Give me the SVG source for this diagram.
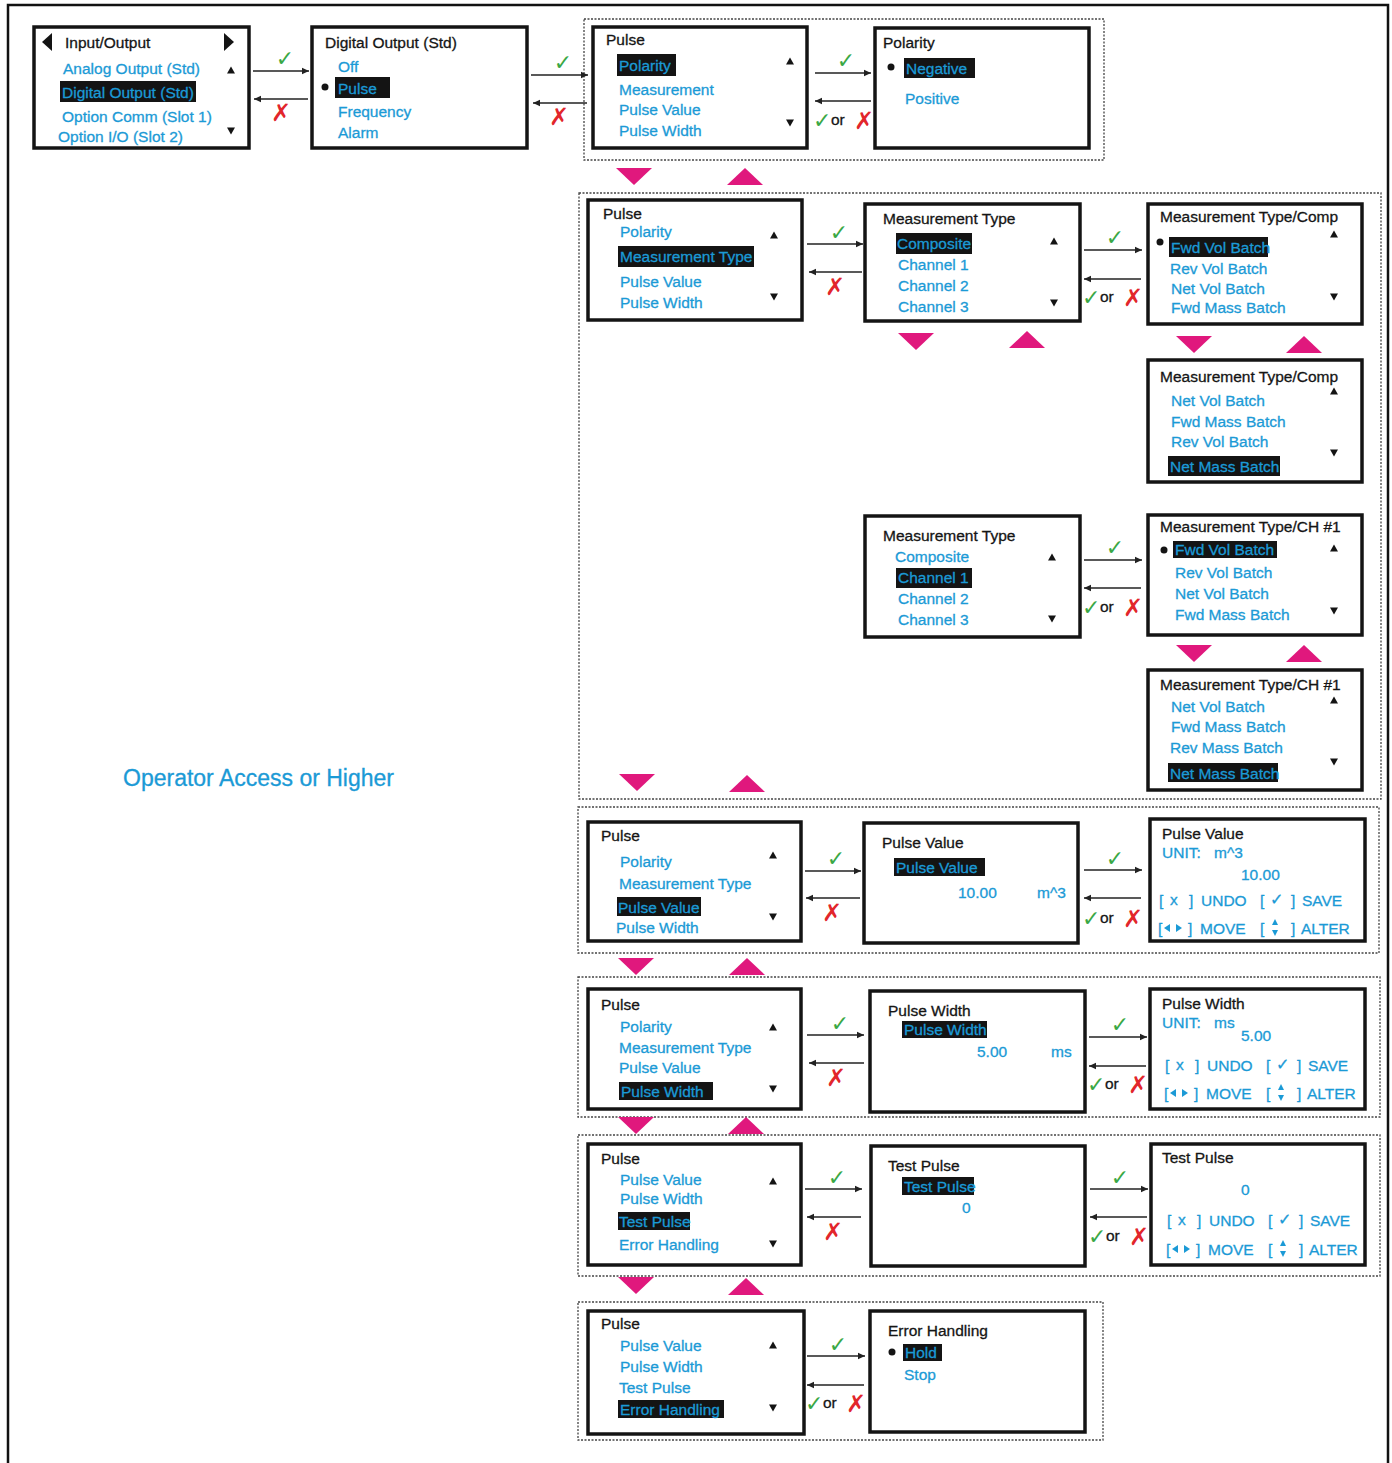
<svg xmlns="http://www.w3.org/2000/svg" width="1392" height="1463" viewBox="0 0 1392 1463">
<style>
.box{fill:#fff;stroke:#141414;stroke-width:3.5}
.grp{fill:none;stroke:#444;stroke-width:1.3;stroke-dasharray:2 1.5}
text{font-family:"Liberation Sans",Arial,sans-serif;font-size:15.5px}
.k{fill:#151515;stroke:#151515;stroke-width:0.3}
.b{fill:#1b9ad6;stroke:#1b9ad6;stroke-width:0.3}
.hl{fill:#141414}
.tri{fill:#141414}
.btri{fill:#1b9ad6}
.pk{fill:#e0187d}
.ar{stroke:#222;stroke-width:1.6;fill:none;marker-end:url(#ah)}
.ok{fill:#3aa845;font-family:"DejaVu Sans",sans-serif;font-size:22px}
.no{fill:#e2262b;font-family:"DejaVu Sans",sans-serif;font-size:24px;font-weight:bold}
.or{fill:#222}
.frame{fill:none;stroke:#111;stroke-width:2.5}
.big{font-size:23px}
.sym{font-family:"DejaVu Sans",sans-serif;font-size:16px}
</style>
<defs>
<marker id="ah" markerUnits="userSpaceOnUse" markerWidth="8" markerHeight="8" refX="7" refY="4" orient="auto">
<path d="M0,0.8 L7,4 L0,7.2 z" fill="#222"/>
</marker>
<polygon id="up" class="tri" points="-4,3.5 0,-3.5 4,3.5"/>
<polygon id="dn" class="tri" points="-4,-3.5 0,3.5 4,-3.5"/>
<polygon id="pdn" class="pk" points="-18,0 18,0 0,17"/>
<polygon id="pup" class="pk" points="-18,0 18,0 0,-17"/>
</defs>

<rect width="1392" height="1463" fill="#fff"/>
<path class="frame" d="M8,1470 L8,5 L1388,5 L1388,1470"/>

<!-- dotted groups -->
<g id="groups">
<rect class="grp" x="584" y="19" width="520" height="141"/>
<rect class="grp" x="579" y="193" width="802" height="606"/>
<rect class="grp" x="578" y="807" width="801" height="146"/>
<rect class="grp" x="578" y="977" width="802" height="140"/>
<rect class="grp" x="578" y="1135" width="802" height="141"/>
<rect class="grp" x="578" y="1302" width="525" height="138"/>
</g>

<text class="b big" x="123" y="786">Operator Access or Higher</text>

<!-- Box A -->
<g id="io">
<rect class="box" x="34" y="27" width="215" height="121"/>
<polygon class="tri" points="52,33 52,51 42,42"/>
<polygon class="tri" points="224,33 224,51 234,42"/>
<text class="k" x="65" y="48">Input/Output</text>
<text class="b" x="63" y="74">Analog Output (Std)</text>
<rect class="hl" x="60" y="81" width="136" height="21"/>
<text class="b" x="62" y="98">Digital Output (Std)</text>
<text class="b" x="62" y="122">Option  Comm (Slot 1)</text>
<text class="b" x="58" y="142">Option  I/O (Slot 2)</text>
<use href="#up" x="231" y="70"/>
<use href="#dn" x="231" y="131"/>
</g>

<!-- Box B -->
<g id="digital-output">
<rect class="box" x="312" y="27" width="215" height="121"/>
<text class="k" x="325" y="48">Digital Output (Std)</text>
<text class="b" x="338" y="72">Off</text>
<circle cx="325" cy="87" r="3.5" fill="#141414"/>
<rect class="hl" x="335" y="77" width="55" height="21"/>
<text class="b" x="338" y="94">Pulse</text>
<text class="b" x="338" y="117">Frequency</text>
<text class="b" x="338" y="138">Alarm</text>
</g>

<!-- Box C -->
<g id="pulse-1">
<rect class="box" x="593" y="27" width="214" height="121"/>
<text class="k" x="606" y="45">Pulse</text>
<rect class="hl" x="617" y="54" width="59" height="22"/>
<text class="b" x="619" y="71">Polarity</text>
<text class="b" x="619" y="95">Measurement</text>
<text class="b" x="619" y="115">Pulse Value</text>
<text class="b" x="619" y="136">Pulse Width</text>
<use href="#up" x="790" y="61"/>
<use href="#dn" x="790" y="123"/>
</g>

<!-- Box D -->
<g id="polarity">
<rect class="box" x="875" y="28" width="214" height="120"/>
<text class="k" x="883" y="48">Polarity</text>
<circle cx="891" cy="67" r="3.5" fill="#141414"/>
<rect class="hl" x="904" y="58" width="71" height="20"/>
<text class="b" x="906" y="74">Negative</text>
<text class="b" x="905" y="104">Positive</text>
</g>

<!-- Box E -->
<g id="pulse-2">
<rect class="box" x="588" y="200" width="214" height="120"/>
<text class="k" x="603" y="219">Pulse</text>
<text class="b" x="620" y="237">Polarity</text>
<rect class="hl" x="618" y="246" width="136" height="21"/>
<text class="b" x="620" y="262">Measurement Type</text>
<text class="b" x="620" y="287">Pulse Value</text>
<text class="b" x="620" y="308">Pulse Width</text>
<use href="#up" x="774" y="235"/>
<use href="#dn" x="774" y="297"/>
</g>

<!-- Box F -->
<g id="meas-type-1">
<rect class="box" x="865" y="204" width="215" height="117"/>
<text class="k" x="883" y="224">Measurement Type</text>
<rect class="hl" x="896" y="233" width="76" height="21"/>
<text class="b" x="897" y="249">Composite</text>
<text class="b" x="898" y="270">Channel 1</text>
<text class="b" x="898" y="291">Channel 2</text>
<text class="b" x="898" y="312">Channel 3</text>
<use href="#up" x="1054" y="241"/>
<use href="#dn" x="1054" y="303"/>
</g>

<!-- Box G -->
<g id="meas-comp-1">
<rect class="box" x="1148" y="204" width="214" height="120"/>
<text class="k" x="1160" y="222">Measurement Type/Comp</text>
<circle cx="1160" cy="242" r="3.5" fill="#141414"/>
<rect class="hl" x="1169" y="237" width="99" height="20"/>
<text class="b" x="1171" y="253">Fwd Vol Batch</text>
<text class="b" x="1170" y="274">Rev Vol Batch</text>
<text class="b" x="1171" y="294">Net Vol Batch</text>
<text class="b" x="1171" y="313">Fwd Mass Batch</text>
<use href="#up" x="1334" y="234"/>
<use href="#dn" x="1334" y="297"/>
</g>

<!-- Box H -->
<g id="meas-comp-2">
<rect class="box" x="1148" y="360" width="214" height="122"/>
<text class="k" x="1160" y="382">Measurement Type/Comp</text>
<text class="b" x="1171" y="406">Net Vol Batch</text>
<text class="b" x="1171" y="427">Fwd Mass Batch</text>
<text class="b" x="1171" y="447">Rev Vol Batch</text>
<rect class="hl" x="1168" y="456" width="112" height="20"/>
<text class="b" x="1170" y="472">Net Mass Batch</text>
<use href="#up" x="1334" y="391"/>
<use href="#dn" x="1334" y="453"/>
</g>

<!-- Box I -->
<g id="meas-type-2">
<rect class="box" x="865" y="516" width="215" height="121"/>
<text class="k" x="883" y="541">Measurement Type</text>
<text class="b" x="895" y="562">Composite</text>
<rect class="hl" x="896" y="568" width="76" height="20"/>
<text class="b" x="898" y="583">Channel 1</text>
<text class="b" x="898" y="604">Channel 2</text>
<text class="b" x="898" y="625">Channel 3</text>
<use href="#up" x="1052" y="557"/>
<use href="#dn" x="1052" y="619"/>
</g>

<!-- Box J -->
<g id="meas-ch1-1">
<rect class="box" x="1148" y="515" width="214" height="120"/>
<text class="k" x="1160" y="532">Measurement Type/CH #1</text>
<circle cx="1164" cy="550" r="3.5" fill="#141414"/>
<rect class="hl" x="1173" y="541" width="104" height="17"/>
<text class="b" x="1175" y="555">Fwd Vol Batch</text>
<text class="b" x="1175" y="578">Rev Vol Batch</text>
<text class="b" x="1175" y="599">Net Vol Batch</text>
<text class="b" x="1175" y="620">Fwd Mass Batch</text>
<use href="#up" x="1334" y="548"/>
<use href="#dn" x="1334" y="611"/>
</g>

<!-- Box K -->
<g id="meas-ch1-2">
<rect class="box" x="1148" y="670" width="214" height="120"/>
<text class="k" x="1160" y="690">Measurement Type/CH #1</text>
<text class="b" x="1171" y="712">Net Vol Batch</text>
<text class="b" x="1171" y="732">Fwd Mass Batch</text>
<text class="b" x="1170" y="753">Rev Mass Batch</text>
<rect class="hl" x="1168" y="763" width="110" height="19"/>
<text class="b" x="1170" y="779">Net Mass Batch</text>
<use href="#up" x="1334" y="700"/>
<use href="#dn" x="1334" y="762"/>
</g>

<!-- Box L -->
<g id="pulse-3">
<rect class="box" x="588" y="822" width="213" height="119"/>
<text class="k" x="601" y="841">Pulse</text>
<text class="b" x="620" y="867">Polarity</text>
<text class="b" x="619" y="889">Measurement Type</text>
<rect class="hl" x="617" y="897" width="84" height="19"/>
<text class="b" x="618" y="913">Pulse Value</text>
<text class="b" x="616" y="933">Pulse Width</text>
<use href="#up" x="773" y="855"/>
<use href="#dn" x="773" y="917"/>
</g>

<!-- Box M -->
<g id="pulse-value">
<rect class="box" x="864" y="823" width="214" height="120"/>
<text class="k" x="882" y="848">Pulse Value</text>
<rect class="hl" x="894" y="858" width="91" height="18"/>
<text class="b" x="896" y="873">Pulse Value</text>
<text class="b" x="958" y="898">10.00</text>
<text class="b" x="1037" y="898">m^3</text>
</g>

<!-- Box N -->
<g id="pulse-value-edit">
<rect class="box" x="1150" y="819" width="215" height="122"/>
<text class="k" x="1162" y="839">Pulse Value</text>
<text class="b" x="1162" y="858">UNIT:</text>
<text class="b" x="1214" y="858">m^3</text>
<text class="b" x="1241" y="880">10.00</text>
<text class="b" x="1159" y="906">[</text>
<text class="b" x="1170" y="905">x</text>
<text class="b" x="1189" y="906">]</text>
<text class="b" x="1201" y="906">UNDO</text>
<text class="b" x="1260" y="906">[</text>
<text class="b sym" x="1270" y="905">✓</text>
<text class="b" x="1291" y="906">]</text>
<text class="b" x="1302" y="906">SAVE</text>
<text class="b" x="1158" y="934">[</text>
<polygon class="btri" points="1170,924 1170,932 1164,928"/>
<polygon class="btri" points="1176,924 1176,932 1182,928"/>
<text class="b" x="1188" y="934">]</text>
<text class="b" x="1200" y="934">MOVE</text>
<text class="b" x="1260" y="934">[</text>
<polygon class="btri" points="1272,925 1278,925 1275,919"/>
<polygon class="btri" points="1272,930 1278,930 1275,936"/>
<text class="b" x="1291" y="934">]</text>
<text class="b" x="1301" y="934">ALTER</text>
</g>

<!-- Box O -->
<g id="pulse-4">
<rect class="box" x="588" y="989" width="213" height="120"/>
<text class="k" x="601" y="1010">Pulse</text>
<text class="b" x="620" y="1032">Polarity</text>
<text class="b" x="619" y="1053">Measurement Type</text>
<text class="b" x="619" y="1073">Pulse Value</text>
<rect class="hl" x="619" y="1082" width="94" height="18"/>
<text class="b" x="621" y="1097">Pulse Width</text>
<use href="#up" x="773" y="1027"/>
<use href="#dn" x="773" y="1089"/>
</g>

<!-- Box P -->
<g id="pulse-width">
<rect class="box" x="870" y="991" width="215" height="121"/>
<text class="k" x="888" y="1016">Pulse Width</text>
<rect class="hl" x="902" y="1021" width="85" height="17"/>
<text class="b" x="904" y="1035">Pulse Width</text>
<text class="b" x="977" y="1057">5.00</text>
<text class="b" x="1051" y="1057">ms</text>
</g>

<!-- Box Q -->
<g id="pulse-width-edit">
<rect class="box" x="1150" y="989" width="215" height="120"/>
<text class="k" x="1162" y="1009">Pulse Width</text>
<text class="b" x="1162" y="1028">UNIT:</text>
<text class="b" x="1214" y="1028">ms</text>
<text class="b" x="1241" y="1041">5.00</text>
<text class="b" x="1165" y="1071">[</text>
<text class="b" x="1176" y="1070">x</text>
<text class="b" x="1195" y="1071">]</text>
<text class="b" x="1207" y="1071">UNDO</text>
<text class="b" x="1266" y="1071">[</text>
<text class="b sym" x="1276" y="1070">✓</text>
<text class="b" x="1297" y="1071">]</text>
<text class="b" x="1308" y="1071">SAVE</text>
<text class="b" x="1164" y="1099">[</text>
<polygon class="btri" points="1176,1089 1176,1097 1170,1093"/>
<polygon class="btri" points="1182,1089 1182,1097 1188,1093"/>
<text class="b" x="1194" y="1099">]</text>
<text class="b" x="1206" y="1099">MOVE</text>
<text class="b" x="1266" y="1099">[</text>
<polygon class="btri" points="1278,1090 1284,1090 1281,1084"/>
<polygon class="btri" points="1278,1095 1284,1095 1281,1101"/>
<text class="b" x="1297" y="1099">]</text>
<text class="b" x="1307" y="1099">ALTER</text>
</g>

<!-- Box R -->
<g id="pulse-5">
<rect class="box" x="588" y="1144" width="213" height="121"/>
<text class="k" x="601" y="1164">Pulse</text>
<text class="b" x="620" y="1185">Pulse Value</text>
<text class="b" x="620" y="1204">Pulse Width</text>
<rect class="hl" x="618" y="1212" width="72" height="18"/>
<text class="b" x="619" y="1227">Test Pulse</text>
<text class="b" x="619" y="1250">Error Handling</text>
<use href="#up" x="773" y="1181"/>
<use href="#dn" x="773" y="1244"/>
</g>

<!-- Box S -->
<g id="test-pulse">
<rect class="box" x="871" y="1146" width="214" height="120"/>
<text class="k" x="888" y="1171">Test Pulse</text>
<rect class="hl" x="902" y="1177" width="72" height="18"/>
<text class="b" x="904" y="1192">Test Pulse</text>
<text class="b" x="962" y="1213">0</text>
</g>

<!-- Box T -->
<g id="test-pulse-edit">
<rect class="box" x="1151" y="1144" width="214" height="121"/>
<text class="k" x="1162" y="1163">Test Pulse</text>
<text class="b" x="1241" y="1195">0</text>
<text class="b" x="1167" y="1226">[</text>
<text class="b" x="1178" y="1225">x</text>
<text class="b" x="1197" y="1226">]</text>
<text class="b" x="1209" y="1226">UNDO</text>
<text class="b" x="1268" y="1226">[</text>
<text class="b sym" x="1278" y="1225">✓</text>
<text class="b" x="1299" y="1226">]</text>
<text class="b" x="1310" y="1226">SAVE</text>
<text class="b" x="1166" y="1255">[</text>
<polygon class="btri" points="1178,1245 1178,1253 1172,1249"/>
<polygon class="btri" points="1184,1245 1184,1253 1190,1249"/>
<text class="b" x="1196" y="1255">]</text>
<text class="b" x="1208" y="1255">MOVE</text>
<text class="b" x="1268" y="1255">[</text>
<polygon class="btri" points="1280,1246 1286,1246 1283,1240"/>
<polygon class="btri" points="1280,1251 1286,1251 1283,1257"/>
<text class="b" x="1299" y="1255">]</text>
<text class="b" x="1309" y="1255">ALTER</text>
</g>

<!-- Box U -->
<g id="pulse-6">
<rect class="box" x="588" y="1311" width="216" height="123"/>
<text class="k" x="601" y="1329">Pulse</text>
<text class="b" x="620" y="1351">Pulse Value</text>
<text class="b" x="620" y="1372">Pulse Width</text>
<text class="b" x="619" y="1393">Test Pulse</text>
<rect class="hl" x="618" y="1400" width="106" height="18"/>
<text class="b" x="620" y="1415">Error Handling</text>
<use href="#up" x="773" y="1345"/>
<use href="#dn" x="773" y="1408"/>
</g>

<!-- Box V -->
<g id="error-handling">
<rect class="box" x="870" y="1311" width="215" height="121"/>
<text class="k" x="888" y="1336">Error Handling</text>
<circle cx="892" cy="1352" r="3.5" fill="#141414"/>
<rect class="hl" x="903" y="1344" width="39" height="17"/>
<text class="b" x="905" y="1358">Hold</text>
<text class="b" x="904" y="1380">Stop</text>
</g>

<!-- connectors -->
<g id="connectors">
<line class="ar" x1="253" y1="71" x2="309" y2="71"/>
<line class="ar" x1="308" y1="99" x2="254" y2="99"/>
<text class="ok" x="285" y="66" text-anchor="middle">✓</text>
<text class="no" x="281" y="121" text-anchor="middle">✗</text>

<line class="ar" x1="531" y1="75" x2="588" y2="75"/>
<line class="ar" x1="587" y1="103" x2="533" y2="103"/>
<text class="ok" x="563" y="70" text-anchor="middle">✓</text>
<text class="no" x="559" y="125" text-anchor="middle">✗</text>

<line class="ar" x1="815" y1="73" x2="871" y2="73"/>
<line class="ar" x1="871" y1="101" x2="815" y2="101"/>
<text class="ok" x="846" y="68" text-anchor="middle">✓</text>
<text class="ok" x="813" y="128">✓</text><text class="k" x="831" y="125">or</text><text class="no" x="854" y="129">✗</text>

<line class="ar" x1="807" y1="244" x2="863" y2="244"/>
<line class="ar" x1="862" y1="272" x2="809" y2="272"/>
<text class="ok" x="839" y="240" text-anchor="middle">✓</text>
<text class="no" x="835" y="295" text-anchor="middle">✗</text>

<line class="ar" x1="1084" y1="250" x2="1142" y2="250"/>
<line class="ar" x1="1141" y1="279" x2="1084" y2="279"/>
<text class="ok" x="1115" y="245" text-anchor="middle">✓</text>
<text class="ok" x="1082" y="305">✓</text><text class="k" x="1100" y="302">or</text><text class="no" x="1123" y="306">✗</text>

<line class="ar" x1="1084" y1="560" x2="1142" y2="560"/>
<line class="ar" x1="1141" y1="588" x2="1084" y2="588"/>
<text class="ok" x="1115" y="555" text-anchor="middle">✓</text>
<text class="ok" x="1082" y="615">✓</text><text class="k" x="1100" y="612">or</text><text class="no" x="1123" y="616">✗</text>

<line class="ar" x1="805" y1="871" x2="861" y2="871"/>
<line class="ar" x1="860" y1="898" x2="806" y2="898"/>
<text class="ok" x="836" y="866" text-anchor="middle">✓</text>
<text class="no" x="832" y="921" text-anchor="middle">✗</text>

<line class="ar" x1="1084" y1="870" x2="1142" y2="870"/>
<line class="ar" x1="1141" y1="898" x2="1084" y2="898"/>
<text class="ok" x="1115" y="866" text-anchor="middle">✓</text>
<text class="ok" x="1082" y="926">✓</text><text class="k" x="1100" y="923">or</text><text class="no" x="1123" y="927">✗</text>

<line class="ar" x1="807" y1="1035" x2="864" y2="1035"/>
<line class="ar" x1="864" y1="1063" x2="809" y2="1063"/>
<text class="ok" x="840" y="1031" text-anchor="middle">✓</text>
<text class="no" x="836" y="1086" text-anchor="middle">✗</text>

<line class="ar" x1="1089" y1="1037" x2="1147" y2="1037"/>
<line class="ar" x1="1146" y1="1066" x2="1089" y2="1066"/>
<text class="ok" x="1120" y="1032" text-anchor="middle">✓</text>
<text class="ok" x="1087" y="1092">✓</text><text class="k" x="1105" y="1089">or</text><text class="no" x="1128" y="1093">✗</text>

<line class="ar" x1="805" y1="1189" x2="862" y2="1189"/>
<line class="ar" x1="861" y1="1217" x2="807" y2="1217"/>
<text class="ok" x="837" y="1185" text-anchor="middle">✓</text>
<text class="no" x="833" y="1240" text-anchor="middle">✗</text>

<line class="ar" x1="1090" y1="1189" x2="1148" y2="1189"/>
<line class="ar" x1="1147" y1="1217" x2="1090" y2="1217"/>
<text class="ok" x="1120" y="1185" text-anchor="middle">✓</text>
<text class="ok" x="1088" y="1244">✓</text><text class="k" x="1106" y="1241">or</text><text class="no" x="1129" y="1245">✗</text>

<line class="ar" x1="807" y1="1356" x2="865" y2="1356"/>
<line class="ar" x1="864" y1="1385" x2="807" y2="1385"/>
<text class="ok" x="838" y="1352" text-anchor="middle">✓</text>
<text class="ok" x="805" y="1411">✓</text><text class="k" x="823" y="1408">or</text><text class="no" x="846" y="1412">✗</text>

<!-- pink navigation triangles -->
<use href="#pdn" x="634" y="168"/>
<use href="#pup" x="745" y="185"/>
<use href="#pdn" x="916" y="333"/>
<use href="#pup" x="1027" y="348"/>
<use href="#pdn" x="1194" y="336"/>
<use href="#pup" x="1304" y="353"/>
<use href="#pdn" x="1194" y="645"/>
<use href="#pup" x="1304" y="662"/>
<use href="#pdn" x="637" y="774"/>
<use href="#pup" x="747" y="792"/>
<use href="#pdn" x="636" y="958"/>
<use href="#pup" x="747" y="975"/>
<use href="#pdn" x="636" y="1117"/>
<use href="#pup" x="746" y="1134"/>
<use href="#pdn" x="636" y="1277"/>
<use href="#pup" x="746" y="1295"/>
</g>
</svg>
